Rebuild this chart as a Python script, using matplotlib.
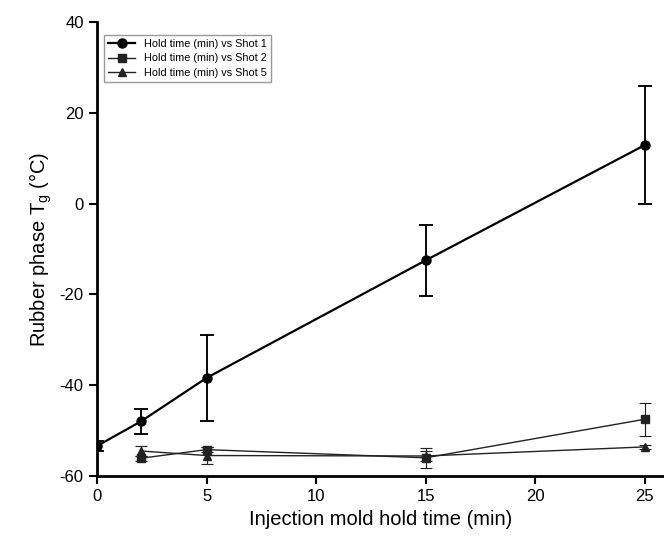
import matplotlib
matplotlib.use('Agg')
import matplotlib.pyplot as plt

plt.rcParams['font.family'] = ['Liberation Sans', 'DejaVu Sans']
plt.rcParams['axes.unicode_minus'] = False

# Shot 1
x1 = [0, 2, 5, 15, 25]
y1 = [-53.4, -48.0, -38.4, -12.5, 12.9]
e1 = [1.0, 2.7, 9.5, 7.8, 13.0]

# Shot 2
x2 = [2, 5, 15, 25]
y2 = [-56.1, -54.2, -56.0, -47.5]
e2 = [0.6, 0.6, 2.2, 3.6]

# Shot 5
x5 = [2, 5, 15, 25]
y5 = [-54.5, -55.5, -55.6, -53.6]
e5 = [1.0, 1.8, 1.2, 0.5]

fig = plt.figure(figsize=(6.64, 5.36), dpi=100)
ax = fig.add_axes([0.146, 0.112, 0.854, 0.847])

series = [
    (x1, y1, e1, 'o', 6.5, 1.6, 'black', 'Hold time (min) vs Shot 1'),
    (x2, y2, e2, 's', 5.5, 1.0, '#222222', 'Hold time (min) vs Shot 2'),
    (x5, y5, e5, '^', 5.5, 1.0, '#222222', 'Hold time (min) vs Shot 5'),
]
for x, y, e, m, ms, lw, c, lab in series:
    ax.errorbar(x, y, yerr=e, fmt='none', ecolor=c, capsize=5 if m == 'o' else 4,
                elinewidth=lw * 0.85, capthick=lw * 0.85)
    ax.plot(x, y, color=c, marker=m, markersize=ms, lw=lw, label=lab)

ax.set_xlim(0, 25.87)
ax.set_ylim(-60, 40)
ax.set_xticks([0, 5, 10, 15, 20, 25])
ax.set_yticks([-60, -40, -20, 0, 20, 40])
ax.spines['top'].set_visible(False)
ax.spines['right'].set_visible(False)
ax.spines['left'].set_linewidth(2)
ax.spines['bottom'].set_linewidth(2)
ax.tick_params(direction='out', length=6, width=1.5, labelsize=12)

ax.set_xlabel('Injection mold hold time (min)', fontsize=14.5)
ax.set_ylabel('Rubber phase T$_\\mathregular{g}$ (°C)', fontsize=14.5)

leg = ax.legend(loc='upper left', bbox_to_anchor=(0.012, 0.972), borderaxespad=0,
                fontsize=7.8, frameon=True, fancybox=False, edgecolor='gray',
                handlelength=2.5, labelspacing=0.4)
leg.get_frame().set_linewidth(1.0)

fig.savefig('out.png', dpi=100)
